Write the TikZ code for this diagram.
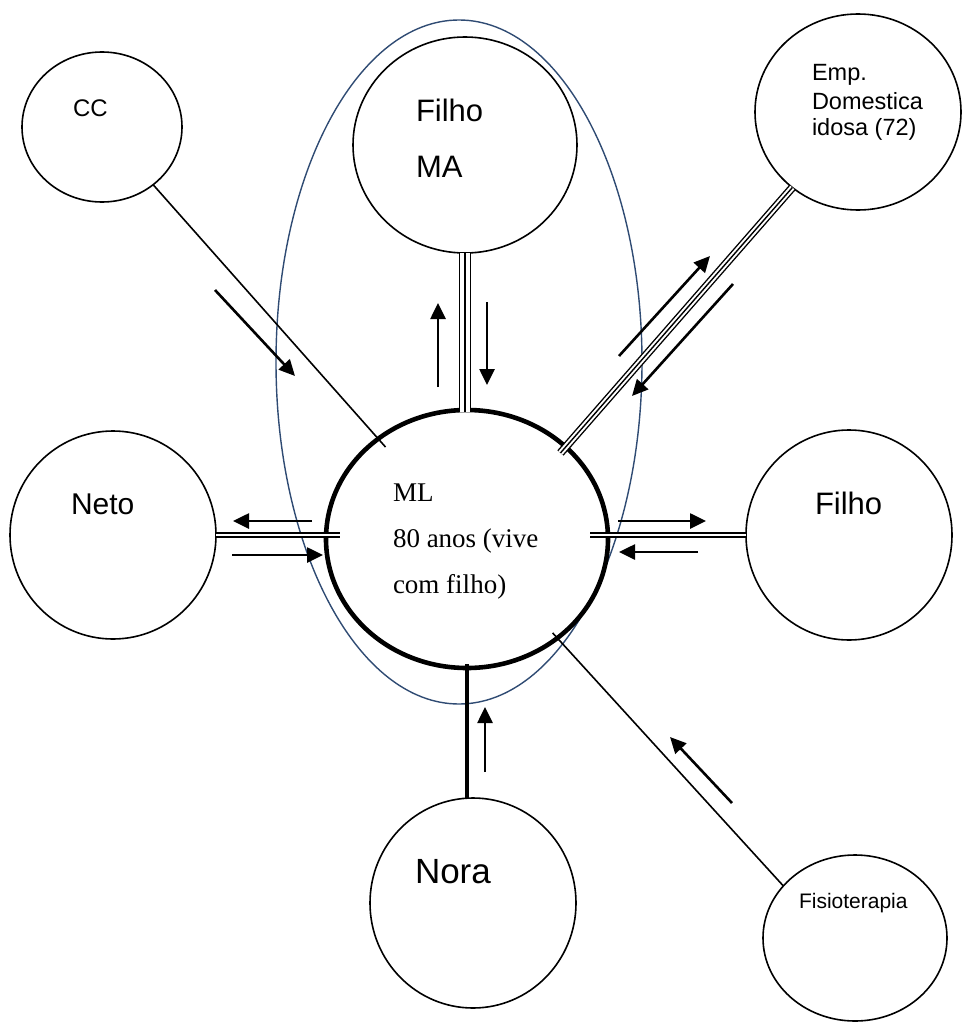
\documentclass[tikz,border=0pt]{standalone}
\usepackage{fontspec}
\setmainfont{Liberation Sans}
\newfontfamily\serifml{Liberation Serif}
\usetikzlibrary{shapes.geometric,arrows.meta,calc}
\definecolor{grupoazul}{RGB}{47,75,115}
\begin{document}
\begin{tikzpicture}[x=1pt,y=-1pt,
  pessoa/.style={ellipse, draw, line width=1.6pt, inner sep=0pt, outer sep=0pt},
  rotulo/.style={anchor=base west, inner sep=0pt, outer sep=0pt},
  fluxo/.style={line width=2.6pt, -{Triangle[length=16pt,width=15pt]}},
  fino/.style={line width=1.6pt},
  duplo/.style={line width=1.4pt, double distance=2.8pt},
  triplo/.style={line width=1.4pt, double distance=#1},
  centro/.style={line width=1.4pt},
  forte/.style={line width=3.2pt}
]
\useasboundingbox (0,0) rectangle (962,1025);

% family group
\node[ellipse, draw=grupoazul, line width=1.4pt, minimum width=366pt, minimum height=684pt, inner sep=0pt] (grupo) at (459,362) {};

% people
\node[pessoa, line width=4.6pt, minimum width=282pt, minimum height=258pt] (ml) at (467,539) {};
\node[pessoa, minimum width=160pt, minimum height=150pt] (cc) at (102,127) {};
\node[pessoa, minimum width=224pt, minimum height=216pt] (fma) at (465,145) {};
\node[pessoa, minimum width=206pt, minimum height=196pt] (emp) at (858,112) {};
\node[pessoa, minimum width=206pt, minimum height=208pt] (neto) at (113,535) {};
\node[pessoa, minimum width=206pt, minimum height=210pt] (filho) at (849,535) {};
\node[pessoa, minimum width=206pt, minimum height=210pt] (nora) at (473,903) {};
\node[pessoa, minimum width=184pt, minimum height=166pt] (fisio) at (855,938) {};

% labels
\begin{scope}[every node/.append style={rotulo}]
\node[font=\serifml\fontsize{27}{32}\selectfont] (t-ml1) at (393,501) {ML};
\node[font=\serifml\fontsize{27}{32}\selectfont] (t-ml2) at (393,547) {80 anos (vive};
\node[font=\serifml\fontsize{27}{32}\selectfont] (t-ml3) at (393,593) {com filho)};
\node[font=\fontsize{24}{29}\selectfont] (t-cc) at (73,116) {CC};
\node[font=\fontsize{31}{37}\selectfont] (t-fma1) at (416,121) {Filho};
\node[font=\fontsize{31}{37}\selectfont] (t-fma2) at (416,177) {MA};
\node[font=\fontsize{23.5}{28}\selectfont] (t-emp1) at (812,81) {Emp.};
\node[font=\fontsize{23.5}{28}\selectfont] (t-emp2) at (812,109) {Domestica};
\node[font=\fontsize{23.5}{28}\selectfont] (t-emp3) at (812,135) {idosa (72)};
\node[font=\fontsize{30}{36}\selectfont] (t-neto) at (71,514) {Neto};
\node[font=\fontsize{31}{37}\selectfont] (t-filho) at (815,514) {Filho};
\node[font=\fontsize{35}{42}\selectfont] (t-nora) at (415,883) {Nora};
\node[font=\fontsize{21}{25}\selectfont] (t-fisio) at (799,908) {Fisioterapia};
\end{scope}

% ties
\draw[fino, shorten >=-11pt] (cc) -- (ml);
\draw[triplo=10pt, shorten >=-2pt] (fma.south) -- (fma.south |- ml.north);
\draw[centro, shorten >=-2pt] (fma.south) -- (fma.south |- ml.north);
\draw[triplo=5.4pt, shorten <=-8pt] (ml.43.7) -- (emp.229.3);
\draw[centro, shorten <=-8pt] (ml.43.7) -- (emp.229.3);
\draw[duplo, shorten >=-14pt] (neto.east) -- (neto.east -| ml.west);
\draw[duplo, shorten >=-18pt] (filho.west) -- (filho.west -| ml.east);
\draw[forte, shorten <=-4pt] (ml.south) -- (ml.south |- nora.north);
\draw[fino, shorten <=-7pt] (ml) -- (fisio.144);

% exchange directions
\draw[fluxo] (215,290) -- (295,376);
\draw[fluxo] (438,387) -- (438,303);
\draw[fluxo] (487,302) -- (487,385);
\draw[fluxo] (619,356) -- (710,256);
\draw[fluxo] (733,284) -- (632,396);
\draw[fluxo] (312,521) -- (233,521);
\draw[fluxo] (232,555) -- (323,555);
\draw[fluxo] (618,521) -- (706,521);
\draw[fluxo] (698,552) -- (619,552);
\draw[fluxo] (485,772) -- (485,707);
\draw[fluxo] (732,803) -- (670,737);
\end{tikzpicture}
\end{document}
